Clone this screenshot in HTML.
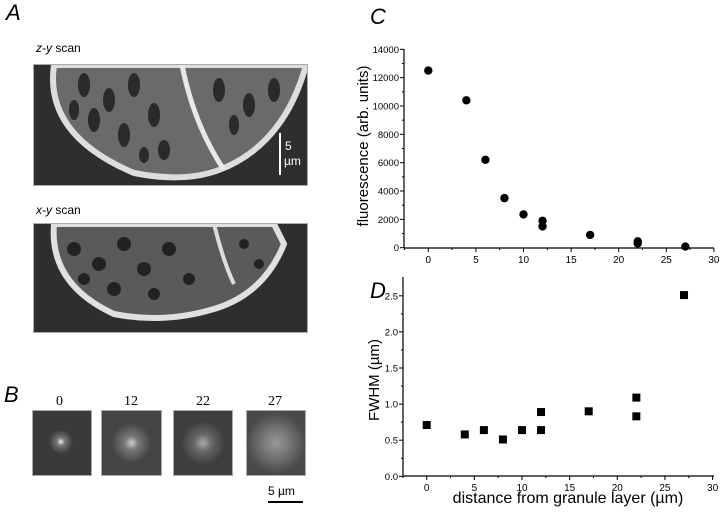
<!DOCTYPE html>
<html><head><meta charset="utf-8"><style>
body{margin:0;background:#fff;width:720px;height:516px;overflow:hidden;position:relative;font-family:"Liberation Sans",sans-serif}
.a{position:absolute}
.lbl{font-size:22px;font-style:italic}
.img{position:absolute;background:#3a3a3a;overflow:hidden;outline:1px solid #aaa}
</style></head><body>
<div class="a lbl" style="left:6px;top:0px">A</div>
<div class="a" style="left:36px;top:41px;font-size:12px"><i>z-y</i> scan</div>
<div class="img" style="left:34px;top:65px;width:273px;height:120px">
<svg width="273" height="120"><rect width="273" height="120" fill="#2e2e2e"/>
<path d="M20 0 Q10 70 100 108 Q150 118 185 105 Q250 80 272 0Z" fill="#6a6a6a" stroke="#ddd" stroke-width="6"/>
<path d="M148 0 Q160 60 190 105" stroke="#e8e8e8" stroke-width="5" fill="none"/>
<g fill="#2a2a2a"><ellipse cx="50" cy="20" rx="6" ry="12"/><ellipse cx="75" cy="35" rx="6" ry="12"/><ellipse cx="100" cy="20" rx="6" ry="12"/><ellipse cx="120" cy="50" rx="6" ry="12"/><ellipse cx="90" cy="70" rx="6" ry="12"/><ellipse cx="185" cy="25" rx="6" ry="12"/><ellipse cx="215" cy="40" rx="6" ry="12"/><ellipse cx="240" cy="25" rx="6" ry="12"/><ellipse cx="60" cy="55" rx="6" ry="12"/><ellipse cx="130" cy="85" rx="6" ry="10"/><ellipse cx="40" cy="45" rx="5" ry="10"/><ellipse cx="110" cy="90" rx="5" ry="8"/><ellipse cx="200" cy="60" rx="5" ry="10"/></g>
<line x1="246" y1="68" x2="246" y2="110" stroke="#fff" stroke-width="2"/>
<text x="251" y="85" fill="#fff" font-size="12" font-family="Liberation Sans">5</text>
<text x="250" y="100" fill="#fff" font-size="12" font-family="Liberation Sans">µm</text></svg></div>
<div class="a" style="left:36px;top:203px;font-size:12px"><i>x-y</i> scan</div>
<div class="img" style="left:34px;top:224px;width:273px;height:108px">
<svg width="273" height="108"><rect width="273" height="108" fill="#2e2e2e"/>
<path d="M20 0 Q15 60 80 90 Q130 100 180 85 Q230 70 250 20 L240 0Z" fill="#5a5a5a" stroke="#e0e0e0" stroke-width="6"/>
<path d="M180 0 Q190 40 200 60" stroke="#ddd" stroke-width="4" fill="none"/>
<g fill="#222"><circle cx="40" cy="25" r="7"/><circle cx="65" cy="40" r="7"/><circle cx="90" cy="20" r="7"/><circle cx="110" cy="45" r="7"/><circle cx="135" cy="25" r="7"/><circle cx="80" cy="65" r="7"/><circle cx="120" cy="70" r="6"/><circle cx="50" cy="55" r="6"/><circle cx="155" cy="55" r="6"/><circle cx="210" cy="20" r="5"/><circle cx="225" cy="40" r="5"/></g></svg></div>
<div class="a lbl" style="left:4px;top:382px">B</div>
<div class="a" style="left:56px;top:394px;font-family:'Liberation Serif',serif;font-size:14px">0</div>
<div class="a" style="left:124px;top:394px;font-family:'Liberation Serif',serif;font-size:14px">12</div>
<div class="a" style="left:196px;top:394px;font-family:'Liberation Serif',serif;font-size:14px">22</div>
<div class="a" style="left:268px;top:394px;font-family:'Liberation Serif',serif;font-size:14px">27</div>
<div class="img" style="left:33px;top:411px;width:58px;height:64px;background:radial-gradient(circle at 48% 48%,#eee 0,#777 4px,#3a3a3a 12px)"></div>
<div class="img" style="left:102px;top:411px;width:59px;height:64px;background:radial-gradient(circle at 50% 50%,#ccc 0,#777 7px,#444 20px)"></div>
<div class="img" style="left:174px;top:411px;width:58px;height:64px;background:radial-gradient(circle at 50% 50%,#aaa 0,#666 9px,#3e3e3e 22px)"></div>
<div class="img" style="left:247px;top:411px;width:58px;height:64px;background:radial-gradient(circle at 50% 50%,#999 0,#6a6a6a 18px,#4a4a4a 30px)"></div>
<div class="a" style="left:268px;top:501px;width:35px;height:2px;background:#000"></div>
<div class="a" style="left:268px;top:484px;font-size:12px">5 µm</div>
<svg class="a" style="left:0;top:0" width="720" height="516" id="ch">
<text x="370" y="24" font-size="22" font-style="italic" font-family="Liberation Sans">C</text>
<text x="370" y="298" font-size="22" font-style="italic" font-family="Liberation Sans">D</text>
<text transform="translate(368,146) rotate(-90)" text-anchor="middle" font-size="15" font-family="Liberation Sans">fluorescence (arb. units)</text>
<text transform="translate(379,380) rotate(-90)" text-anchor="middle" font-size="15" font-family="Liberation Sans">FWHM (µm)</text>
<text x="568" y="503" text-anchor="middle" font-size="16" font-family="Liberation Sans">distance from granule layer (µm)</text>
<g id="gc"></g><g id="gd"></g>
</svg>
<script>
const xTicks=[0,5,10,15,20,25,30];
const cTicks=[0,2000,4000,6000,8000,10000,12000,14000];
const dTicks=[0.0,0.5,1.0,1.5,2.0,2.5];
const dTickLabels=["0.0","0.5","1.0","1.5","2.0","2.5"];
const cX=[0,4,6,8,10,12,12,17,22,22,27];
const cY=[12500,10400,6200,3500,2350,1900,1500,900,450,300,80];
const dX=[0,4,6,8,10,12,12,17,22,22,27];
const dY=[0.71,0.58,0.64,0.51,0.64,0.89,0.64,0.90,1.09,0.83,2.51];
const NS='http://www.w3.org/2000/svg';
function mk(p,t,a){const e=document.createElementNS(NS,t);for(const k in a)e.setAttribute(k,a[k]);p.appendChild(e);return e;}
const cxs=v=>428.3+v*9.52, cys=v=>247.7-v*(198.4/14000);
const dxs=v=>426.7+v*9.53, dys=v=>476.3-v*72.2;
function axes(g,xs,ys,x0,yTop,yBot,ticks,labels,fs,minor){
 let e=mk(g,'line',{x1:x0,y1:yBot,x2:714,y2:yBot,stroke:'#000','stroke-width':1.2});
 
 e=mk(g,'line',{x1:x0,y1:yTop,x2:x0,y2:yBot,stroke:'#000','stroke-width':1.2});
 
 xTicks.forEach(t=>{mk(g,'line',{x1:xs(t),y1:yBot,x2:xs(t),y2:yBot+4,stroke:'#000'});
  mk(g,'line',{x1:xs(t-2.5),y1:yBot,x2:xs(t-2.5),y2:yBot+2,stroke:'#000'});
  e=mk(g,'text',{x:xs(t),y:yBot+15,'text-anchor':'middle','font-size':10,'font-family':'Liberation Sans'});e.textContent=t;
  });
 ticks.forEach((t,i)=>{mk(g,'line',{x1:x0-4,y1:ys(t),x2:x0,y2:ys(t),stroke:'#000'});
  if(i<ticks.length-1)mk(g,'line',{x1:x0-2,y1:ys(t+minor),x2:x0,y2:ys(t+minor),stroke:'#000'});
  e=mk(g,'text',{x:x0-5,y:ys(t)+3.5,'text-anchor':'end','font-size':fs,'font-family':'Liberation Sans'});e.textContent=labels[i];
  });
}
const gc=document.getElementById('gc'),gd=document.getElementById('gd');
axes(gc,cxs,cys,404,49,248,cTicks,cTicks,9.5,1000);
axes(gd,dxs,dys,403,277,476,dTicks,dTickLabels,9.5,0.25);
cX.forEach((x,i)=>{const e=mk(gc,'circle',{cx:cxs(x),cy:cys(cY[i]),r:4.2,fill:'#000'});
 });
dX.forEach((x,i)=>{const e=mk(gd,'rect',{x:dxs(x)-4,y:dys(dY[i])-4,width:8,height:8,fill:'#000'});
 });
</script>
</body></html>
